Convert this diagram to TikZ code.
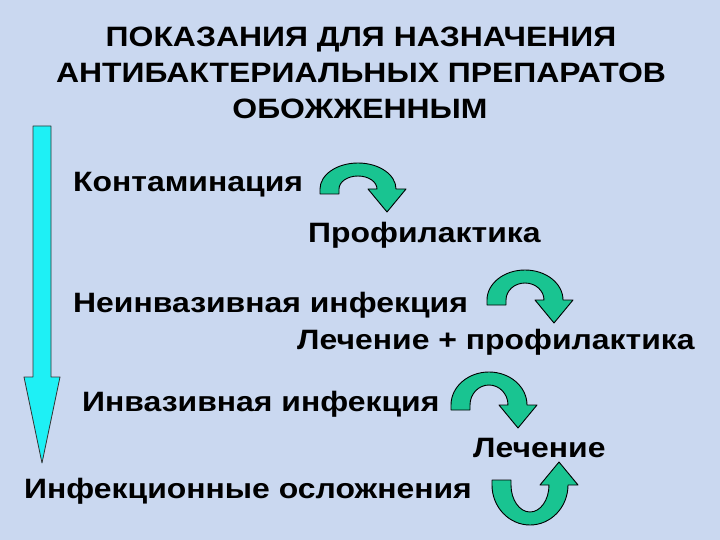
\documentclass[tikz,border=0pt]{standalone}
\usepackage{fontspec}
\setmainfont{Liberation Sans}[FakeStretch=1.14]
\definecolor{bgc}{RGB}{202,216,240}
\definecolor{garr}{RGB}{25,196,145}
\definecolor{cyarr}{RGB}{30,240,245}
\tikzset{
  txt/.style={anchor=base west, inner sep=0pt, font=\bfseries\fontsize{28}{32}\selectfont},
  ttl/.style={anchor=base, inner sep=0pt, font=\bfseries\fontsize{28}{36}\selectfont},
  carr/.style={fill=garr, draw=black, line width=0.9pt, line join=round},
}
\newcommand\grarrow[4]{%
  \draw[carr, shift={(#1,-#2)}, yscale=#4]
    (0,-5) -- (0,0) arc[start angle=180, end angle=0, x radius=38, y radius=#3]
    -- (86,0) -- (67,-23) -- (48,0) -- (57,0)
    arc[start angle=0, end angle=180, x radius=19, y radius={#3-13}]
    -- (19,-5) -- cycle;}
\begin{document}
\begin{tikzpicture}[x=1pt,y=1pt]
\fill[bgc] (0,0) rectangle (720,-540);
\useasboundingbox (0,0) rectangle (720,-540);
% title
\node[ttl] (t1) at (361,-47) {ПОКАЗАНИЯ ДЛЯ НАЗНАЧЕНИЯ};
\node[ttl] (t2) at (361,-83) {АНТИБАКТЕРИАЛЬНЫХ ПРЕПАРАТОВ};
\node[ttl] (t3) at (360,-119) {ОБОЖЖЕННЫМ};
% big arrow
\draw[fill=cyarr, draw=black!80, line width=0.8pt, line join=round]
  (33,-126) -- (51,-126) -- (51,-377) -- (60,-377) -- (42,-463) -- (24,-377) -- (33,-377) -- cycle;
% texts
\node[txt] (a1) at (73,-192) {Контаминация};
\node[txt] (b1) at (308,-243) {Профилактика};
\node[txt] (a2) at (73,-312) {Неинвазивная инфекция};
\node[txt] (b2) at (297,-349) {Лечение + профилактика};
\node[txt] (a3) at (82,-411) {Инвазивная инфекция};
\node[txt] (b3) at (473,-457) {Лечение};
\node[txt] (a4) at (24,-498) {Инфекционные осложнения};
% curved arrows
\grarrow{320}{189}{26}{1}
\grarrow{487}{300}{30}{1}
\grarrow{451}{405}{33}{1}
\grarrow{492}{485}{40}{-1}
\end{tikzpicture}
\end{document}
